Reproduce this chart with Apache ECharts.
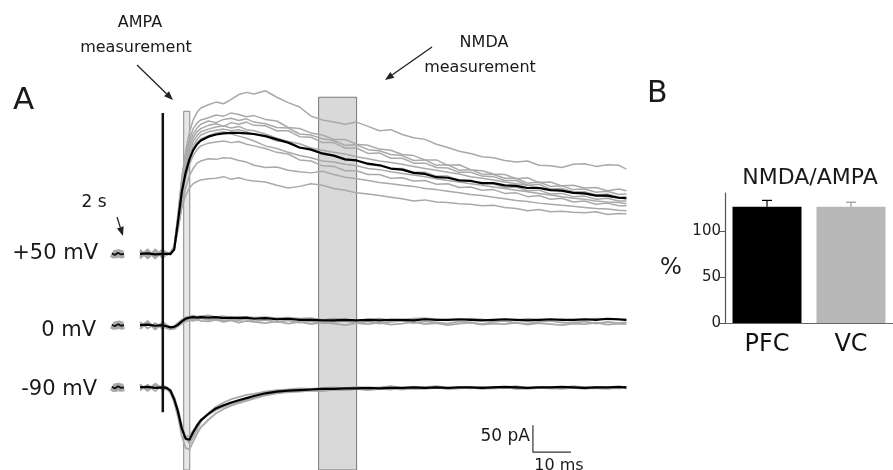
<!DOCTYPE html>
<html>
<head>
<meta charset="utf-8">
<script src="https://cdn.jsdelivr.net/npm/echarts@6.0.0/dist/echarts.min.js"></script>
<style>
  html, body { margin: 0; padding: 0; background: #fff; }
  #chart { width: 893px; height: 470px; }
</style>
</head>
<body>
<div id="chart"></div>
<script>
// time after stimulus (ms), shared by all sweeps
const timeMs = [-6, -4, -2, 0,
  1, 2, 3, 4, 5, 6, 7, 8, 9, 10,
  12, 14, 16, 18, 20, 22, 24,
  27, 30, 33, 36, 39, 42, 45, 48, 51, 54, 57, 60, 63, 66, 69, 72, 75, 78, 81, 84, 87, 90, 93, 96, 99, 102, 105, 108, 111, 114, 117, 120,
  122];
// short baseline piece recorded 2 s earlier
const preTimeMs = [-13.4, -12.6, -11.8, -11.0, -10.2];
const prePA = [1, -2, 2, -1, 0];

// +50 mV (pA, relative to baseline)
const plus50Mean = [0, 1, -1, 0,
  0, 0, 8, 60, 115, 150, 175, 192, 203, 210,
  217, 221, 223, 224, 224, 223, 222,
  218, 212, 206, 197, 193, 186, 182, 175, 173, 167, 164, 158, 156, 150, 148, 142, 141, 136, 135, 131, 131, 127, 126, 122, 122, 118, 117, 113, 112, 108, 108, 104,
  103];
const plus50Sweep1 = [6, -8, 9, -5,
  3, 0, 15, 70, 140, 190, 225, 248, 262, 270,
  276, 281, 278, 286, 295, 299, 296,
  302, 290, 280, 272, 255, 248, 244, 240, 244, 236, 228, 230, 221, 215, 212, 203, 197, 190, 186, 180, 178, 173, 170, 172, 164, 163, 160, 166, 167, 162, 165, 164,
  157];
const plus50Sweep2 = [-7, 5, -4, 8,
  2, 1, 12, 75, 140, 185, 212, 232, 242, 248,
  252, 257, 255, 261, 258, 254, 256,
  249, 246, 234, 232, 224, 220, 212, 212, 203, 201, 194, 192, 184, 182, 174, 174, 164, 165, 156, 154, 148, 147, 139, 141, 132, 133, 126, 127, 122, 123, 117, 120,
  117];
const plus50Sweep3 = [4, -6, 7, -8,
  -1, 3, 14, 68, 132, 176, 205, 222, 233, 240,
  246, 243, 249, 251, 247, 250, 244,
  241, 234, 233, 222, 220, 213, 210, 201, 202, 193, 191, 184, 182, 173, 174, 164, 165, 155, 156, 148, 147, 140, 140, 131, 133, 125, 126, 119, 120, 114, 116, 110,
  111];
const plus50Sweep4 = [-9, 3, -6, 5,
  1, -2, 9, 62, 125, 170, 198, 215, 226, 232,
  238, 241, 236, 243, 240, 244, 238,
  237, 228, 228, 217, 216, 206, 206, 196, 196, 186, 187, 177, 177, 168, 168, 160, 159, 151, 151, 144, 143, 136, 136, 127, 129, 120, 121, 115, 115, 109, 111, 105,
  106];
const plus50Sweep5 = [8, -3, 5, -7,
  2, 0, 11, 58, 118, 162, 190, 208, 219, 226,
  231, 235, 237, 233, 236, 230, 228,
  222, 214, 208, 204, 196, 192, 188, 185, 180, 176, 172, 169, 166, 162, 158, 155, 151, 148, 143, 140, 137, 133, 130, 127, 123, 120, 116, 114, 111, 108, 106, 104,
  102];
const plus50Sweep6 = [-5, 9, -8, 3,
  -1, 1, 10, 55, 112, 155, 182, 200, 212, 220,
  226, 229, 231, 228, 230, 226, 221,
  218, 209, 207, 196, 195, 184, 182, 174, 173, 165, 165, 158, 158, 151, 151, 144, 144, 136, 137, 130, 130, 123, 124, 117, 118, 111, 112, 106, 107, 101, 103, 98,
  98];
const plus50Sweep7 = [3, -7, 6, -4,
  1, 2, 13, 60, 115, 152, 176, 194, 206, 213,
  219, 224, 226, 222, 218, 214, 209,
  200, 195, 188, 182, 178, 172, 170, 166, 163, 158, 156, 152, 149, 146, 143, 139, 136, 133, 130, 127, 124, 121, 118, 115, 112, 109, 106, 103, 101, 98, 96, 95,
  93];
const plus50Sweep8 = [-6, 7, -3, 9,
  -2, 1, 8, 50, 100, 140, 165, 182, 193, 200,
  205, 207, 209, 206, 208, 203, 200,
  195, 188, 185, 174, 172, 163, 162, 154, 154, 147, 147, 140, 141, 135, 136, 129, 130, 123, 124, 118, 119, 112, 113, 106, 108, 101, 103, 96, 98, 92, 94, 89,
  89];
const plus50Sweep9 = [7, -9, 4, -6,
  0, -1, 9, 45, 88, 122, 145, 158, 168, 172,
  176, 175, 178, 177, 173, 170, 164,
  160, 161, 155, 152, 150, 153, 147, 142, 139, 136, 132, 130, 127, 125, 121, 119, 116, 113, 110, 108, 105, 102, 99, 97, 94, 92, 90, 88, 86, 84, 83, 81,
  80];
const plus50Sweep10 = [-4, 6, -9, 7,
  -2, 2, 10, 45, 85, 108, 122, 130, 134, 137,
  139, 140, 143, 138, 141, 137, 135,
  133, 127, 122, 125, 130, 127, 121, 118, 113, 111, 108, 105, 102, 98, 100, 96, 95, 93, 92, 89, 90, 86, 84, 80, 82, 78, 79, 77, 76, 78, 73, 75,
  74];

// 0 mV
const zeroMean = [0, 1, -1, 0,
  -2, -4, -3, 1, 7, 12, 14, 15, 14, 15,
  14, 15, 13, 14, 13, 14, 12,
  13, 11, 12, 10, 10, 9, 9, 10, 9, 10, 9, 10, 10, 9, 11, 10, 10, 11, 10, 9, 10, 11, 10, 9, 10, 11, 10, 10, 11, 10, 12, 11,
  10];
const zeroSweep1 = [-7, 5, -8, 4,
  -6, -8, -5, -1, 4, 9, 11, 12, 9, 13,
  10, 12, 8, 11, 9, 12, 7,
  10, 6, 9, 5, 7, 4, 6, 8, 4, 7, 3, 6, 8, 4, 7, 5, 3, 7, 5, 2, 6, 8, 4, 3, 6, 8, 5, 4, 7, 3, 6, 4,
  5];
const zeroSweep2 = [6, -6, 4, -7,
  -1, -6, -7, -2, 3, 7, 9, 8, 11, 8,
  7, 10, 6, 9, 5, 8, 6,
  4, 7, 3, 6, 2, 5, 3, 0, 4, 2, 5, 1, 3, 6, 2, 4, 0, 3, 5, 1, 3, 2, 5, 1, 4, 2, 0, 3, 2, 5, 1, 3,
  2];
const zeroSweep3 = [-3, 8, -5, 6,
  1, -3, -2, 4, 10, 15, 16, 18, 16, 17,
  18, 15, 17, 13, 16, 15, 14,
  15, 13, 14, 12, 13, 10, 12, 11, 8, 11, 12, 9, 10, 12, 13, 11, 9, 10, 12, 11, 8, 10, 9, 12, 10, 9, 11, 8, 10, 12, 11, 10,
  9];

// -90 mV
const minus90Mean = [0, 1, -1, 0,
  -1, -6, -22, -45, -76, -95, -97, -83, -71, -61,
  -49, -39, -33, -28, -24, -20, -16,
  -11, -8, -6, -5, -4, -3, -3, -2, -2, -1, -2, -1, -1, 0, -1, 0, -1, 0, 0, -1, 0, 1, 0, -1, 0, 0, 1, 0, -1, 0, 0, 1,
  0];
const minus90Sweep1 = [6, -7, 5, -5,
  -3, -10, -28, -55, -90, -112, -115, -100, -86, -74,
  -60, -48, -40, -34, -29, -25, -21,
  -15, -11, -9, -8, -6, -7, -4, -5, -3, -4, -2, -4, -1, -3, -2, 0, -3, -1, -2, 1, -2, 0, -3, -1, 1, -2, 0, -1, -3, 0, -1, -2,
  -1];
const minus90Sweep2 = [-6, 5, -7, 4,
  0, -4, -18, -40, -70, -94, -104, -92, -78, -64,
  -48, -36, -28, -22, -18, -14, -12,
  -8, -5, -4, -2, -3, -1, 0, -2, 1, -1, 0, 2, -1, 1, 0, 2, -1, 0, 1, -2, 1, 0, 2, -1, 1, 0, -1, 2, 0, 1, -1, 0,
  1];
const minus90Sweep3 = [4, -5, 7, -3,
  -2, -8, -24, -48, -78, -92, -90, -80, -69, -60,
  -50, -42, -36, -31, -27, -23, -19,
  -14, -10, -8, -7, -5, -6, -4, -5, -3, -5, -3, -2, -4, -2, -3, -1, -3, -2, -1, -3, -2, -1, -2, -3, -1, -2, -3, -1, -2, -2, -3, -1,
  -2];

// measurement windows (ms) and stimulus artifact (pA)
const ampaWindowMs = [5.5, 7.1];
const nmdaWindowMs = [41, 51];
const artifactPA = [261, -293];
const scaleBarMs = 10;
const scaleBarPA = 50;

// panel B
const regions = ['PFC', 'VC'];
const ratioMean = [126, 126];
const ratioSem = [7, 5];
const ratioTicks = [0, 50, 100];

// vertical placement of the three holding potentials on the pA axis
const offsets = { plus50: 0, zero: -132, minus90: -247 };

const GRAY = '#a9a9a9';
const FONT = 'DejaVu Sans';

function trace(values, offset, color, width, z) {
  return {
    type: 'line', xAxisIndex: 0, yAxisIndex: 0,
    data: timeMs.map((t, i) => [t, values[i] + offset]),
    showSymbol: false, silent: true, z: z,
    lineStyle: { color: color, width: width }
  };
}
function preTrace(offset) {
  return [
    { type: 'line', data: preTimeMs.map((t, i) => [t, prePA[i] + offset]), showSymbol: false, silent: true, z: 3,
      lineStyle: { color: GRAY, width: 8 } },
    { type: 'line', data: preTimeMs.map((t, i) => [t, prePA[i] + offset]), showSymbol: false, silent: true, z: 5,
      lineStyle: { color: '#111', width: 1.8 } }
  ];
}

const series = [];
// measurement windows behind the traces
series.push({
  type: 'line', data: [], z: 1, silent: true,
  markArea: {
    silent: true,
    data: [
      [{ xAxis: ampaWindowMs[0], yAxis: -400, itemStyle: { color: '#e6e6e6', borderColor: '#888', borderWidth: 1 } },
       { xAxis: ampaWindowMs[1], yAxis: 264 }],
      [{ xAxis: nmdaWindowMs[0], yAxis: -400, itemStyle: { color: '#d9d9d9', borderColor: '#777', borderWidth: 1 } },
       { xAxis: nmdaWindowMs[1], yAxis: 290 }]
    ]
  }
});
[plus50Sweep1, plus50Sweep2, plus50Sweep3, plus50Sweep4, plus50Sweep5,
 plus50Sweep6, plus50Sweep7, plus50Sweep8, plus50Sweep9, plus50Sweep10]
  .forEach(s => series.push(trace(s, offsets.plus50, GRAY, 1.5, 3)));
[zeroSweep1, zeroSweep2, zeroSweep3]
  .forEach(s => series.push(trace(s, offsets.zero, GRAY, 1.8, 3)));
[minus90Sweep1, minus90Sweep2, minus90Sweep3]
  .forEach(s => series.push(trace(s, offsets.minus90, GRAY, 1.8, 3)));
series.push(trace(plus50Mean, offsets.plus50, '#000', 2.2, 5));
series.push(trace(zeroMean, offsets.zero, '#000', 2.2, 5));
series.push(trace(minus90Mean, offsets.minus90, '#000', 2.2, 5));
series.push(...preTrace(offsets.plus50), ...preTrace(offsets.zero), ...preTrace(offsets.minus90));
// stimulus artifact
series.push({
  type: 'line', data: [[0, artifactPA[0]], [0, artifactPA[1]]], showSymbol: false, silent: true, z: 6,
  lineStyle: { color: '#111', width: 2.5 }
});
// scale bar
const sbX = 97.4, sbY = -367;
series.push({
  type: 'line', data: [[sbX, sbY + scaleBarPA], [sbX, sbY], [sbX + scaleBarMs, sbY]],
  showSymbol: false, silent: true, z: 6, lineStyle: { color: '#333', width: 1.2 }
});

// panel B
series.push({
  type: 'bar', xAxisIndex: 1, yAxisIndex: 1, barWidth: 69,
  data: ratioMean.map((v, i) => ({ value: v, itemStyle: { color: i === 0 ? '#000' : '#b8b8b8' } })),
  z: 2
});
const errColors = ['#000', '#999'];
series.push({
  type: 'custom', xAxisIndex: 1, yAxisIndex: 1, z: 4,
  data: regions.map((r, i) => [i, ratioMean[i], ratioSem[i]]),
  encode: { x: 0, y: 1 },
  renderItem: function (params, api) {
    const i = api.value(0);
    const base = api.coord([i, api.value(1)]);
    const top = api.coord([i, api.value(1) + api.value(2)]);
    const st = { stroke: errColors[i], lineWidth: 1.2 };
    return {
      type: 'group', children: [
        { type: 'line', shape: { x1: base[0], y1: base[1], x2: top[0], y2: top[1] }, style: st },
        { type: 'line', shape: { x1: top[0] - 5, y1: top[1], x2: top[0] + 5, y2: top[1] }, style: st }
      ]
    };
  }
});

function text(str, x, y, size, align) {
  return { type: 'text', x: x, y: y, z: 10, silent: true,
    style: { text: str, fontFamily: FONT, fontSize: size, fill: '#1a1a1a', align: align || 'center', verticalAlign: 'middle' } };
}
function arrow(x1, y1, x2, y2) {
  const a = Math.atan2(y2 - y1, x2 - x1);
  const L = 9, W = 3.5;
  const bx = x2 - L * Math.cos(a), by = y2 - L * Math.sin(a);
  return [
    { type: 'line', z: 10, silent: true, shape: { x1: x1, y1: y1, x2: bx, y2: by }, style: { stroke: '#222', lineWidth: 1.3 } },
    { type: 'polygon', z: 10, silent: true,
      shape: { points: [[x2, y2], [bx - W * Math.sin(a), by + W * Math.cos(a)], [bx + W * Math.sin(a), by - W * Math.cos(a)]] },
      style: { fill: '#222' } }
  ];
}

const graphic = [
  text('A', 13, 101, 31, 'left'),
  text('B', 647, 94, 30, 'left'),
  text('AMPA', 140, 23, 16),
  text('measurement', 136, 48, 16),
  ...arrow(137, 65, 173, 100),
  text('NMDA', 484, 43, 16),
  text('measurement', 480, 68, 16),
  ...arrow(432, 47, 385, 80),
  text('2 s', 94, 203, 17),
  ...arrow(117, 217, 123, 236),
  text('+50 mV', 98, 254, 21, 'right'),
  text('0 mV', 96, 331, 21, 'right'),
  text('-90 mV', 97, 390, 21, 'right'),
  text('50 pA', 530, 437, 17, 'right'),
  text('10 ms', 559, 466, 16),
  text('NMDA/AMPA', 810, 178, 22),
  text('%', 671, 268, 23)
];

const chart = echarts.init(document.getElementById('chart'), null, { renderer: 'canvas' });
chart.setOption({
  animation: false,
  backgroundColor: '#fff',
  grid: [
    { left: 102, width: 532, top: 0, height: 470 },
    { left: 725, right: -4, top: 193, bottom: 147 }
  ],
  xAxis: [
    { type: 'value', gridIndex: 0, min: -16, max: 124, show: false },
    { type: 'category', gridIndex: 1, data: regions,
      axisLine: { lineStyle: { color: '#666', width: 1.2 } },
      axisTick: { show: false },
      axisLabel: { fontFamily: FONT, fontSize: 24, color: '#111', margin: 10 } }
  ],
  yAxis: [
    { type: 'value', gridIndex: 0, min: -400, max: 470, show: false },
    { type: 'value', gridIndex: 1, min: 0, max: 141,
      splitLine: { show: false },
      axisLine: { show: true, lineStyle: { color: '#555', width: 1.2 } },
      axisTick: { show: true, length: 5, customValues: ratioTicks, lineStyle: { color: '#555' } },
      axisLabel: { customValues: ratioTicks, fontFamily: FONT, fontSize: 15, color: '#222', margin: 4 } }
  ],
  graphic: graphic,
  series: series
});
</script>
</body>
</html>
